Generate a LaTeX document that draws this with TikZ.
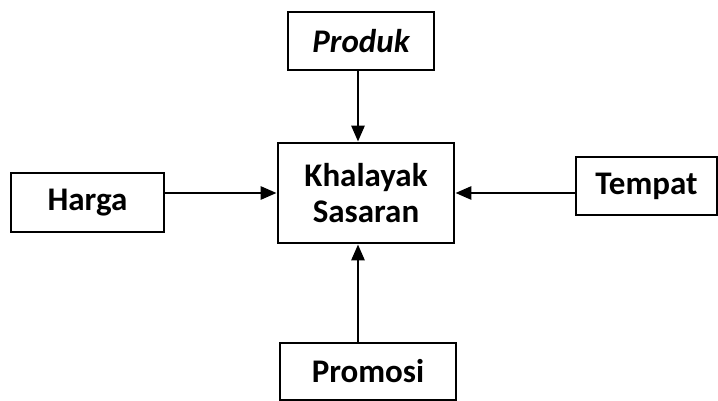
\documentclass[tikz,border=0pt]{standalone}
\usepackage{fontspec}
\setmainfont{Carlito}
\usetikzlibrary{arrows.meta}
\begin{document}
\begin{tikzpicture}[x=1pt,y=1pt,
  box/.style={draw,line width=2.8pt,inner sep=0pt,align=center,font=\fontsize{33}{36}\selectfont\bfseries},
  arr/.style={line width=2.8pt,-{Triangle[length=16pt,width=13pt]}}]
\useasboundingbox (0,0) rectangle (718,401);
\node[box,minimum width=146,minimum height=58] (prod) at (361,360) {\itshape Produk};
\node[box,minimum width=176,minimum height=100] (khal) at (366,208) {Khalayak\\Sasaran};
\node[box,minimum width=153,minimum height=59] (harga) at (87.5,198.5) {Harga};
\node[box,minimum width=141,minimum height=58] (temp) at (646.5,215) {Tempat};
\node[box,minimum width=176,minimum height=57] (promo) at (368,29.5) {Promosi};
\draw[arr] ([xshift=-3pt]prod.south) -- ([xshift=-3pt]prod.south |- khal.north);
\draw[arr] ([xshift=-10pt]promo.north) -- ([xshift=-10pt]promo.north |- khal.south);
\draw[arr] (harga.east |- khal.west) -- (khal.west);
\draw[arr] (temp.west |- khal.east) -- (khal.east);
\end{tikzpicture}
\end{document}
